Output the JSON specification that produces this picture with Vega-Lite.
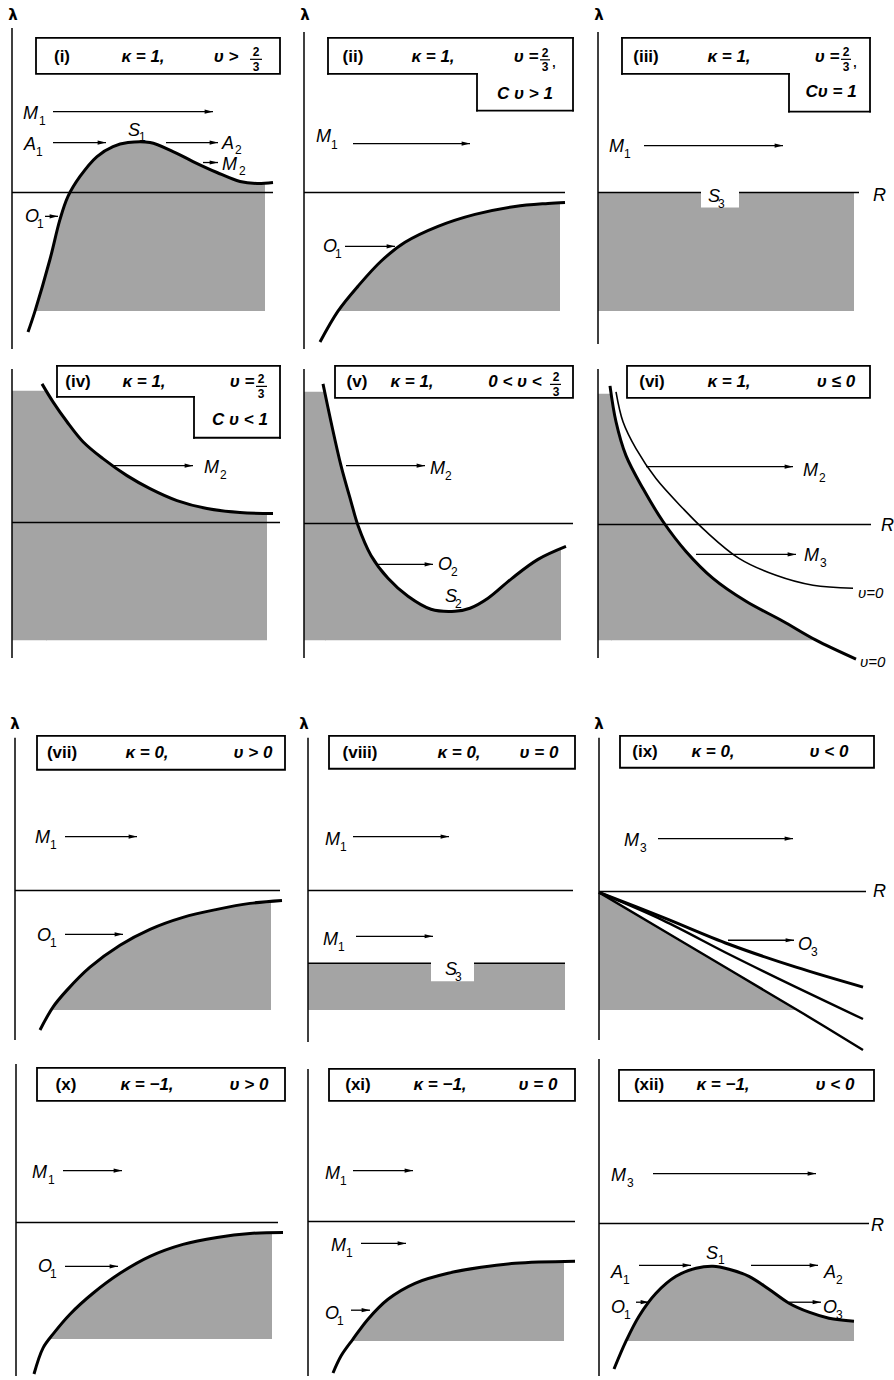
{
  "$schema": "https://vega.github.io/schema/vega-lite/v6.json",
  "width": 894,
  "height": 1380,
  "autosize": {"type": "fit", "contains": "padding"},
  "padding": 0,
  "background": "white",
  "config": {"view": {"stroke": null}},
  "datasets": {
    "shade": [
      {"id": "i", "x": 35, "y": 312, "yb": 312}, {"id": "i", "x": 50, "y": 260, "yb": 312}, {"id": "i", "x": 60, "y": 220, "yb": 312}, {"id": "i", "x": 68, "y": 197, "yb": 312}, {"id": "i", "x": 80, "y": 177, "yb": 312}, {"id": "i", "x": 97, "y": 157, "yb": 312}, {"id": "i", "x": 113, "y": 147, "yb": 312}, {"id": "i", "x": 128, "y": 143, "yb": 312}, {"id": "i", "x": 150, "y": 143, "yb": 312}, {"id": "i", "x": 173, "y": 152, "yb": 312}, {"id": "i", "x": 193, "y": 162, "yb": 312}, {"id": "i", "x": 217, "y": 173, "yb": 312}, {"id": "i", "x": 240, "y": 182, "yb": 312}, {"id": "i", "x": 257, "y": 184, "yb": 312}, {"id": "i", "x": 265, "y": 184, "yb": 312},
      {"id": "ii", "x": 338, "y": 312, "yb": 312}, {"id": "ii", "x": 358, "y": 287, "yb": 312}, {"id": "ii", "x": 381, "y": 262, "yb": 312}, {"id": "ii", "x": 405, "y": 243, "yb": 312}, {"id": "ii", "x": 438, "y": 227, "yb": 312}, {"id": "ii", "x": 475, "y": 215, "yb": 312}, {"id": "ii", "x": 515, "y": 207, "yb": 312}, {"id": "ii", "x": 548, "y": 204, "yb": 312}, {"id": "ii", "x": 560, "y": 203.5, "yb": 312},
      {"id": "iii", "x": 598, "y": 193, "yb": 312}, {"id": "iii", "x": 854, "y": 193, "yb": 312},
      {"id": "iv0", "x": 12, "y": 392, "yb": 642}, {"id": "iv0", "x": 47, "y": 392, "yb": 642},
      {"id": "iv", "x": 46, "y": 392, "yb": 642}, {"id": "iv", "x": 53, "y": 403, "yb": 642}, {"id": "iv", "x": 67, "y": 423, "yb": 642}, {"id": "iv", "x": 83, "y": 443, "yb": 642}, {"id": "iv", "x": 103, "y": 460, "yb": 642}, {"id": "iv", "x": 127, "y": 477, "yb": 642}, {"id": "iv", "x": 150, "y": 490, "yb": 642}, {"id": "iv", "x": 177, "y": 502, "yb": 642}, {"id": "iv", "x": 207, "y": 510, "yb": 642}, {"id": "iv", "x": 240, "y": 514, "yb": 642}, {"id": "iv", "x": 267, "y": 515, "yb": 642},
      {"id": "v0", "x": 304, "y": 393, "yb": 642}, {"id": "v0", "x": 326, "y": 393, "yb": 642},
      {"id": "v", "x": 325, "y": 393, "yb": 642}, {"id": "v", "x": 331, "y": 423, "yb": 642}, {"id": "v", "x": 341, "y": 467, "yb": 642}, {"id": "v", "x": 351, "y": 503, "yb": 642}, {"id": "v", "x": 358, "y": 527, "yb": 642}, {"id": "v", "x": 371, "y": 557, "yb": 642}, {"id": "v", "x": 388, "y": 580, "yb": 642}, {"id": "v", "x": 408, "y": 598, "yb": 642}, {"id": "v", "x": 431, "y": 611, "yb": 642}, {"id": "v", "x": 455, "y": 613, "yb": 642}, {"id": "v", "x": 470, "y": 610, "yb": 642}, {"id": "v", "x": 488, "y": 600, "yb": 642}, {"id": "v", "x": 512, "y": 580, "yb": 642}, {"id": "v", "x": 538, "y": 561, "yb": 642}, {"id": "v", "x": 561, "y": 550, "yb": 642},
      {"id": "vi0", "x": 598, "y": 395, "yb": 642}, {"id": "vi0", "x": 612, "y": 395, "yb": 642},
      {"id": "vi", "x": 611, "y": 395, "yb": 642}, {"id": "vi", "x": 616, "y": 423, "yb": 642}, {"id": "vi", "x": 626, "y": 457, "yb": 642}, {"id": "vi", "x": 643, "y": 490, "yb": 642}, {"id": "vi", "x": 663, "y": 523, "yb": 642}, {"id": "vi", "x": 686, "y": 553, "yb": 642}, {"id": "vi", "x": 713, "y": 580, "yb": 642}, {"id": "vi", "x": 746, "y": 603, "yb": 642}, {"id": "vi", "x": 783, "y": 623, "yb": 642}, {"id": "vi", "x": 816, "y": 642, "yb": 642},
      {"id": "vii", "x": 51, "y": 1013, "yb": 1013}, {"id": "vii", "x": 53, "y": 1010, "yb": 1013}, {"id": "vii", "x": 67, "y": 993, "yb": 1013}, {"id": "vii", "x": 90, "y": 970, "yb": 1013}, {"id": "vii", "x": 120, "y": 948, "yb": 1013}, {"id": "vii", "x": 150, "y": 932, "yb": 1013}, {"id": "vii", "x": 183, "y": 920, "yb": 1013}, {"id": "vii", "x": 217, "y": 912, "yb": 1013}, {"id": "vii", "x": 250, "y": 906, "yb": 1013}, {"id": "vii", "x": 271, "y": 904, "yb": 1013},
      {"id": "viii", "x": 308, "y": 966, "yb": 1013}, {"id": "viii", "x": 565, "y": 966, "yb": 1013},
      {"id": "ix", "x": 599, "y": 895, "yb": 1013}, {"id": "ix", "x": 700, "y": 955, "yb": 1013}, {"id": "ix", "x": 797, "y": 1013, "yb": 1013},
      {"id": "x", "x": 49, "y": 1343, "yb": 1343}, {"id": "x", "x": 53, "y": 1338, "yb": 1343}, {"id": "x", "x": 70, "y": 1318, "yb": 1343}, {"id": "x", "x": 93, "y": 1297, "yb": 1343}, {"id": "x", "x": 120, "y": 1277, "yb": 1343}, {"id": "x", "x": 150, "y": 1260, "yb": 1343}, {"id": "x", "x": 183, "y": 1248, "yb": 1343}, {"id": "x", "x": 217, "y": 1241, "yb": 1343}, {"id": "x", "x": 250, "y": 1237, "yb": 1343}, {"id": "x", "x": 272, "y": 1236, "yb": 1343},
      {"id": "xi", "x": 352, "y": 1345, "yb": 1345}, {"id": "xi", "x": 368, "y": 1323, "yb": 1345}, {"id": "xi", "x": 388, "y": 1303, "yb": 1345}, {"id": "xi", "x": 415, "y": 1287, "yb": 1345}, {"id": "xi", "x": 448, "y": 1277, "yb": 1345}, {"id": "xi", "x": 481, "y": 1271, "yb": 1345}, {"id": "xi", "x": 515, "y": 1267, "yb": 1345}, {"id": "xi", "x": 564, "y": 1265, "yb": 1345},
      {"id": "xii", "x": 626, "y": 1345, "yb": 1345}, {"id": "xii", "x": 639, "y": 1320, "yb": 1345}, {"id": "xii", "x": 656, "y": 1297, "yb": 1345}, {"id": "xii", "x": 676, "y": 1280, "yb": 1345}, {"id": "xii", "x": 696, "y": 1272, "yb": 1345}, {"id": "xii", "x": 713, "y": 1270, "yb": 1345}, {"id": "xii", "x": 729, "y": 1273, "yb": 1345}, {"id": "xii", "x": 749, "y": 1280, "yb": 1345}, {"id": "xii", "x": 769, "y": 1293, "yb": 1345}, {"id": "xii", "x": 789, "y": 1307, "yb": 1345}, {"id": "xii", "x": 809, "y": 1316, "yb": 1345}, {"id": "xii", "x": 829, "y": 1322, "yb": 1345}, {"id": "xii", "x": 854, "y": 1325, "yb": 1345}
    ],
    "notch": [
      {"x": 701, "x2": 739, "y": 189, "y2": 208},
      {"x": 431, "x2": 474, "y": 964, "y2": 984}
    ],
    "axes": [
      {"x": 12, "y": 28, "y2": 350}, {"x": 12, "y": 370, "y2": 660},
      {"x": 304, "y": 32, "y2": 350}, {"x": 304, "y": 370, "y2": 660},
      {"x": 598, "y": 32, "y2": 345}, {"x": 598, "y": 370, "y2": 660},
      {"x": 15, "y": 740, "y2": 1043}, {"x": 16, "y": 1067, "y2": 1380},
      {"x": 308, "y": 740, "y2": 1045}, {"x": 308, "y": 1072, "y2": 1380},
      {"x": 599, "y": 740, "y2": 1043}, {"x": 599, "y": 1062, "y2": 1380}
    ],
    "hlines": [
      {"x": 12, "x2": 273, "y": 193}, {"x": 304, "x2": 565, "y": 193}, {"x": 598, "x2": 859, "y": 193},
      {"x": 12, "x2": 280, "y": 524}, {"x": 304, "x2": 573, "y": 525}, {"x": 598, "x2": 871, "y": 526},
      {"x": 15, "x2": 280, "y": 893}, {"x": 308, "x2": 573, "y": 893}, {"x": 599, "x2": 866, "y": 894},
      {"x": 308, "x2": 565, "y": 966},
      {"x": 16, "x2": 278, "y": 1226}, {"x": 308, "x2": 575, "y": 1225}, {"x": 599, "x2": 869, "y": 1227}
    ],
    "boundary": [
      {"id": "i", "x": 28, "y": 333}, {"id": "i", "x": 35, "y": 312}, {"id": "i", "x": 50, "y": 260}, {"id": "i", "x": 60, "y": 220}, {"id": "i", "x": 68, "y": 197}, {"id": "i", "x": 80, "y": 177}, {"id": "i", "x": 97, "y": 157}, {"id": "i", "x": 113, "y": 147}, {"id": "i", "x": 128, "y": 143}, {"id": "i", "x": 150, "y": 143}, {"id": "i", "x": 173, "y": 152}, {"id": "i", "x": 193, "y": 162}, {"id": "i", "x": 217, "y": 173}, {"id": "i", "x": 240, "y": 182}, {"id": "i", "x": 257, "y": 184}, {"id": "i", "x": 273, "y": 183},
      {"id": "ii", "x": 320, "y": 343}, {"id": "ii", "x": 338, "y": 312}, {"id": "ii", "x": 358, "y": 287}, {"id": "ii", "x": 381, "y": 262}, {"id": "ii", "x": 405, "y": 243}, {"id": "ii", "x": 438, "y": 227}, {"id": "ii", "x": 475, "y": 215}, {"id": "ii", "x": 515, "y": 207}, {"id": "ii", "x": 548, "y": 204}, {"id": "ii", "x": 565, "y": 203},
      {"id": "iv", "x": 42, "y": 385}, {"id": "iv", "x": 53, "y": 403}, {"id": "iv", "x": 67, "y": 423}, {"id": "iv", "x": 83, "y": 443}, {"id": "iv", "x": 103, "y": 460}, {"id": "iv", "x": 127, "y": 477}, {"id": "iv", "x": 150, "y": 490}, {"id": "iv", "x": 177, "y": 502}, {"id": "iv", "x": 207, "y": 510}, {"id": "iv", "x": 240, "y": 514}, {"id": "iv", "x": 273, "y": 515},
      {"id": "v", "x": 323, "y": 385}, {"id": "v", "x": 331, "y": 423}, {"id": "v", "x": 341, "y": 467}, {"id": "v", "x": 351, "y": 503}, {"id": "v", "x": 358, "y": 527}, {"id": "v", "x": 371, "y": 557}, {"id": "v", "x": 388, "y": 580}, {"id": "v", "x": 408, "y": 598}, {"id": "v", "x": 431, "y": 611}, {"id": "v", "x": 455, "y": 613}, {"id": "v", "x": 470, "y": 610}, {"id": "v", "x": 488, "y": 600}, {"id": "v", "x": 512, "y": 580}, {"id": "v", "x": 538, "y": 561}, {"id": "v", "x": 566, "y": 548},
      {"id": "vi", "x": 610, "y": 387}, {"id": "vi", "x": 616, "y": 423}, {"id": "vi", "x": 626, "y": 457}, {"id": "vi", "x": 643, "y": 490}, {"id": "vi", "x": 663, "y": 523}, {"id": "vi", "x": 686, "y": 553}, {"id": "vi", "x": 713, "y": 580}, {"id": "vi", "x": 746, "y": 603}, {"id": "vi", "x": 783, "y": 623}, {"id": "vi", "x": 816, "y": 642}, {"id": "vi", "x": 856, "y": 661},
      {"id": "vii", "x": 40, "y": 1033}, {"id": "vii", "x": 53, "y": 1010}, {"id": "vii", "x": 67, "y": 993}, {"id": "vii", "x": 90, "y": 970}, {"id": "vii", "x": 120, "y": 948}, {"id": "vii", "x": 150, "y": 932}, {"id": "vii", "x": 183, "y": 920}, {"id": "vii", "x": 217, "y": 912}, {"id": "vii", "x": 250, "y": 906}, {"id": "vii", "x": 282, "y": 903},
      {"id": "ixa", "x": 599, "y": 895}, {"id": "ixa", "x": 663, "y": 920}, {"id": "ixa", "x": 729, "y": 947}, {"id": "ixa", "x": 796, "y": 970}, {"id": "ixa", "x": 863, "y": 990},
      {"id": "x", "x": 34, "y": 1378}, {"id": "x", "x": 43, "y": 1352}, {"id": "x", "x": 53, "y": 1338}, {"id": "x", "x": 70, "y": 1318}, {"id": "x", "x": 93, "y": 1297}, {"id": "x", "x": 120, "y": 1277}, {"id": "x", "x": 150, "y": 1260}, {"id": "x", "x": 183, "y": 1248}, {"id": "x", "x": 217, "y": 1241}, {"id": "x", "x": 250, "y": 1237}, {"id": "x", "x": 283, "y": 1236},
      {"id": "xi", "x": 333, "y": 1377}, {"id": "xi", "x": 341, "y": 1360}, {"id": "xi", "x": 353, "y": 1343}, {"id": "xi", "x": 368, "y": 1323}, {"id": "xi", "x": 388, "y": 1303}, {"id": "xi", "x": 415, "y": 1287}, {"id": "xi", "x": 448, "y": 1277}, {"id": "xi", "x": 481, "y": 1271}, {"id": "xi", "x": 515, "y": 1267}, {"id": "xi", "x": 575, "y": 1265},
      {"id": "xii", "x": 614, "y": 1373}, {"id": "xii", "x": 626, "y": 1345}, {"id": "xii", "x": 639, "y": 1320}, {"id": "xii", "x": 656, "y": 1297}, {"id": "xii", "x": 676, "y": 1280}, {"id": "xii", "x": 696, "y": 1272}, {"id": "xii", "x": 713, "y": 1270}, {"id": "xii", "x": 729, "y": 1273}, {"id": "xii", "x": 749, "y": 1280}, {"id": "xii", "x": 769, "y": 1293}, {"id": "xii", "x": 789, "y": 1307}, {"id": "xii", "x": 809, "y": 1316}, {"id": "xii", "x": 829, "y": 1322}, {"id": "xii", "x": 854, "y": 1325}
    ],
    "medium": [
      {"id": "ixb", "x": 599, "y": 895}, {"id": "ixb", "x": 663, "y": 923}, {"id": "ixb", "x": 729, "y": 957}, {"id": "ixb", "x": 796, "y": 990}, {"id": "ixb", "x": 863, "y": 1022},
      {"id": "ixc", "x": 599, "y": 895}, {"id": "ixc", "x": 700, "y": 955}, {"id": "ixc", "x": 804, "y": 1017}, {"id": "ixc", "x": 863, "y": 1053}
    ],
    "light": [
      {"id": "vi0", "x": 616, "y": 393}, {"id": "vi0", "x": 623, "y": 423}, {"id": "vi0", "x": 636, "y": 450}, {"id": "vi0", "x": 656, "y": 480}, {"id": "vi0", "x": 683, "y": 510}, {"id": "vi0", "x": 706, "y": 533}, {"id": "vi0", "x": 739, "y": 560}, {"id": "vi0", "x": 776, "y": 577}, {"id": "vi0", "x": 813, "y": 587}, {"id": "vi0", "x": 853, "y": 590}
    ],
    "frames": [
      {"x": 36, "x2": 280, "y": 38, "y2": 74},
      {"x": 335, "x2": 573, "y": 367, "y2": 399},
      {"x": 627, "x2": 870, "y": 367, "y2": 399},
      {"x": 37, "x2": 285, "y": 738, "y2": 772},
      {"x": 329, "x2": 575, "y": 738, "y2": 771},
      {"x": 620, "x2": 874, "y": 738, "y2": 770},
      {"x": 37, "x2": 285, "y": 1071, "y2": 1104},
      {"x": 329, "x2": 575, "y": 1072, "y2": 1104},
      {"x": 619, "x2": 874, "y": 1073, "y2": 1104}
    ],
    "steps": [
      {"x": 328, "y": 38, "x2": 573, "y2": 38}, {"x": 573, "y": 38, "x2": 573, "y2": 111}, {"x": 573, "y": 111, "x2": 477, "y2": 111}, {"x": 477, "y": 111, "x2": 477, "y2": 74}, {"x": 477, "y": 74, "x2": 328, "y2": 74}, {"x": 328, "y": 74, "x2": 328, "y2": 38},
      {"x": 622, "y": 38, "x2": 870, "y2": 38}, {"x": 870, "y": 38, "x2": 870, "y2": 112}, {"x": 870, "y": 112, "x2": 789, "y2": 112}, {"x": 789, "y": 112, "x2": 789, "y2": 74}, {"x": 789, "y": 74, "x2": 622, "y2": 74}, {"x": 622, "y": 74, "x2": 622, "y2": 38},
      {"x": 57, "y": 367, "x2": 280, "y2": 367}, {"x": 280, "y": 367, "x2": 280, "y2": 439}, {"x": 280, "y": 439, "x2": 194, "y2": 439}, {"x": 194, "y": 439, "x2": 194, "y2": 398}, {"x": 194, "y": 398, "x2": 57, "y2": 398}, {"x": 57, "y": 398, "x2": 57, "y2": 367}
    ],
    "bars": [
      {"x": 250, "x2": 262, "y": 59.5}, {"x": 540, "x2": 550, "y": 60}, {"x": 841, "x2": 851, "y": 59.5},
      {"x": 256, "x2": 267, "y": 387.5}, {"x": 550, "x2": 561, "y": 385.5}
    ],
    "arrows": [
      {"x": 53, "x2": 213, "y": 112}, {"x": 53, "x2": 106, "y": 143}, {"x": 166, "x2": 218, "y": 143}, {"x": 203, "x2": 218, "y": 163}, {"x": 45, "x2": 58, "y": 217},
      {"x": 353, "x2": 470, "y": 144}, {"x": 345, "x2": 395, "y": 247},
      {"x": 644, "x2": 783, "y": 146},
      {"x": 113, "x2": 193, "y": 467},
      {"x": 346, "x2": 425, "y": 467}, {"x": 376, "x2": 433, "y": 566},
      {"x": 646, "x2": 793, "y": 468}, {"x": 696, "x2": 796, "y": 556},
      {"x": 65, "x2": 137, "y": 839}, {"x": 65, "x2": 123, "y": 937},
      {"x": 353, "x2": 449, "y": 839}, {"x": 356, "x2": 433, "y": 939},
      {"x": 658, "x2": 793, "y": 841}, {"x": 728, "x2": 794, "y": 943},
      {"x": 63, "x2": 122, "y": 1174}, {"x": 65, "x2": 118, "y": 1270},
      {"x": 353, "x2": 413, "y": 1174}, {"x": 361, "x2": 406, "y": 1247}, {"x": 351, "x2": 370, "y": 1314},
      {"x": 653, "x2": 816, "y": 1177}, {"x": 639, "x2": 691, "y": 1269}, {"x": 751, "x2": 818, "y": 1269}, {"x": 636, "x2": 649, "y": 1306}, {"x": 789, "x2": 821, "y": 1306}
    ],
    "letters": [
      {"x": 23, "y": 114, "t": "M"}, {"x": 24, "y": 145, "t": "A"}, {"x": 128, "y": 131, "t": "S"}, {"x": 222, "y": 144, "t": "A"}, {"x": 222, "y": 165, "t": "M"}, {"x": 25, "y": 218, "t": "O"},
      {"x": 316, "y": 137, "t": "M"}, {"x": 323, "y": 248, "t": "O"},
      {"x": 609, "y": 147, "t": "M"}, {"x": 708, "y": 198, "t": "S"}, {"x": 873, "y": 197, "t": "R"},
      {"x": 204, "y": 469, "t": "M"},
      {"x": 430, "y": 470, "t": "M"}, {"x": 438, "y": 567, "t": "O"}, {"x": 445, "y": 599, "t": "S"},
      {"x": 803, "y": 472, "t": "M"}, {"x": 804, "y": 558, "t": "M"}, {"x": 881, "y": 528, "t": "R"},
      {"x": 35, "y": 840, "t": "M"}, {"x": 37, "y": 939, "t": "O"},
      {"x": 325, "y": 842, "t": "M"}, {"x": 323, "y": 943, "t": "M"}, {"x": 445, "y": 973, "t": "S"},
      {"x": 624, "y": 843, "t": "M"}, {"x": 798, "y": 948, "t": "O"}, {"x": 873, "y": 895, "t": "R"},
      {"x": 32, "y": 1176, "t": "M"}, {"x": 38, "y": 1271, "t": "O"},
      {"x": 325, "y": 1177, "t": "M"}, {"x": 331, "y": 1250, "t": "M"}, {"x": 325, "y": 1318, "t": "O"},
      {"x": 611, "y": 1179, "t": "M"}, {"x": 611, "y": 1277, "t": "A"}, {"x": 706, "y": 1258, "t": "S"}, {"x": 824, "y": 1277, "t": "A"}, {"x": 611, "y": 1312, "t": "O"}, {"x": 823, "y": 1312, "t": "O"}, {"x": 871, "y": 1230, "t": "R"}
    ],
    "subs": [
      {"x": 39, "y": 121, "t": "1"}, {"x": 36, "y": 152, "t": "1"}, {"x": 139, "y": 137, "t": "1"}, {"x": 235, "y": 150, "t": "2"}, {"x": 239, "y": 171, "t": "2"}, {"x": 37, "y": 225, "t": "1"},
      {"x": 331, "y": 145, "t": "1"}, {"x": 335, "y": 255, "t": "1"},
      {"x": 624, "y": 154, "t": "1"}, {"x": 718, "y": 205, "t": "3"},
      {"x": 220, "y": 476, "t": "2"},
      {"x": 445, "y": 477, "t": "2"}, {"x": 451, "y": 574, "t": "2"}, {"x": 455, "y": 606, "t": "2"},
      {"x": 819, "y": 479, "t": "2"}, {"x": 820, "y": 565, "t": "3"},
      {"x": 50, "y": 847, "t": "1"}, {"x": 50, "y": 946, "t": "1"},
      {"x": 340, "y": 849, "t": "1"}, {"x": 338, "y": 950, "t": "1"}, {"x": 455, "y": 980, "t": "3"},
      {"x": 640, "y": 850, "t": "3"}, {"x": 811, "y": 955, "t": "3"},
      {"x": 48, "y": 1183, "t": "1"}, {"x": 50, "y": 1278, "t": "1"},
      {"x": 340, "y": 1184, "t": "1"}, {"x": 346, "y": 1257, "t": "1"}, {"x": 337, "y": 1325, "t": "1"},
      {"x": 627, "y": 1186, "t": "3"}, {"x": 623, "y": 1284, "t": "1"}, {"x": 718, "y": 1264, "t": "1"}, {"x": 836, "y": 1284, "t": "2"}, {"x": 624, "y": 1319, "t": "1"}, {"x": 836, "y": 1319, "t": "3"}
    ],
    "cases": [
      {"x": 62, "y": 57, "t": "(i)"}, {"x": 353, "y": 57, "t": "(ii)"}, {"x": 646, "y": 57, "t": "(iii)"},
      {"x": 78, "y": 383, "t": "(iv)"}, {"x": 357, "y": 383, "t": "(v)"}, {"x": 652, "y": 383, "t": "(vi)"},
      {"x": 62, "y": 755, "t": "(vii)"}, {"x": 360, "y": 755, "t": "(viii)"}, {"x": 645, "y": 754, "t": "(ix)"},
      {"x": 66, "y": 1088, "t": "(x)"}, {"x": 358, "y": 1088, "t": "(xi)"}, {"x": 649, "y": 1088, "t": "(xii)"}
    ],
    "conditions": [
      {"x": 143, "y": 57, "t": "κ = 1,"}, {"x": 226, "y": 57, "t": "υ >"},
      {"x": 433, "y": 57, "t": "κ = 1,"}, {"x": 526, "y": 57, "t": "υ ="}, {"x": 525, "y": 94, "t": "C υ > 1"},
      {"x": 729, "y": 57, "t": "κ = 1,"}, {"x": 827, "y": 57, "t": "υ ="}, {"x": 831, "y": 92, "t": "Cυ = 1"},
      {"x": 144, "y": 383, "t": "κ = 1,"}, {"x": 242, "y": 383, "t": "υ ="}, {"x": 240, "y": 421, "t": "C υ < 1"},
      {"x": 412, "y": 383, "t": "κ = 1,"}, {"x": 515, "y": 383, "t": "0 < υ <"},
      {"x": 729, "y": 383, "t": "κ = 1,"}, {"x": 836, "y": 383, "t": "υ ≤ 0"},
      {"x": 147, "y": 755, "t": "κ = 0,"}, {"x": 253, "y": 755, "t": "υ > 0"},
      {"x": 459, "y": 755, "t": "κ = 0,"}, {"x": 539, "y": 755, "t": "υ = 0"},
      {"x": 713, "y": 754, "t": "κ = 0,"}, {"x": 829, "y": 754, "t": "υ < 0"},
      {"x": 147, "y": 1088, "t": "κ = −1,"}, {"x": 249, "y": 1088, "t": "υ > 0"},
      {"x": 440, "y": 1088, "t": "κ = −1,"}, {"x": 538, "y": 1088, "t": "υ = 0"},
      {"x": 723, "y": 1088, "t": "κ = −1,"}, {"x": 835, "y": 1088, "t": "υ < 0"}
    ],
    "digits": [
      {"x": 256, "y": 52, "t": "2"}, {"x": 256, "y": 67, "t": "3"},
      {"x": 545, "y": 53, "t": "2"}, {"x": 545, "y": 67, "t": "3"}, {"x": 554, "y": 63, "t": ","},
      {"x": 846, "y": 52, "t": "2"}, {"x": 846, "y": 67, "t": "3"}, {"x": 855, "y": 63, "t": ","},
      {"x": 261, "y": 380, "t": "2"}, {"x": 261, "y": 395, "t": "3"},
      {"x": 556, "y": 378, "t": "2"}, {"x": 556, "y": 393, "t": "3"}
    ],
    "lambda": [
      {"x": 13, "y": 15, "t": "λ"}, {"x": 305, "y": 15, "t": "λ"}, {"x": 599, "y": 15, "t": "λ"},
      {"x": 15, "y": 726, "t": "λ"}, {"x": 304, "y": 726, "t": "λ"}, {"x": 599, "y": 726, "t": "λ"}
    ],
    "limits": [
      {"x": 858, "y": 595, "t": "υ=0"}, {"x": 860, "y": 664, "t": "υ=0"}
    ]
  },
  "encoding": {
    "x": {"field": "x", "type": "quantitative", "scale": {"domain": [0, 894], "nice": false, "zero": false}, "axis": null},
    "y": {"field": "y", "type": "quantitative", "scale": {"domain": [0, 1380], "nice": false, "zero": false, "reverse": true}, "axis": null}
  },
  "layer": [
    {
      "data": {"name": "shade"},
      "mark": {"type": "area", "interpolate": "catmull-rom", "fill": "#a4a4a4"},
      "encoding": {"y2": {"field": "yb"}, "detail": {"field": "id"}}
    },
    {
      "data": {"name": "hlines"},
      "mark": {"type": "rule", "color": "black", "strokeWidth": 1.5},
      "encoding": {"x2": {"field": "x2"}}
    },
    {
      "data": {"name": "axes"},
      "mark": {"type": "rule", "color": "black", "strokeWidth": 1.5},
      "encoding": {"y2": {"field": "y2"}}
    },
    {
      "data": {"name": "notch"},
      "mark": {"type": "rect", "fill": "white"},
      "encoding": {"x2": {"field": "x2"}, "y2": {"field": "y2"}}
    },
    {
      "data": {"name": "boundary"},
      "mark": {"type": "line", "interpolate": "catmull-rom", "color": "black", "strokeWidth": 3},
      "encoding": {"detail": {"field": "id"}}
    },
    {
      "data": {"name": "medium"},
      "mark": {"type": "line", "interpolate": "catmull-rom", "color": "black", "strokeWidth": 2.4},
      "encoding": {"detail": {"field": "id"}}
    },
    {
      "data": {"name": "light"},
      "mark": {"type": "line", "interpolate": "catmull-rom", "color": "black", "strokeWidth": 1.6},
      "encoding": {"detail": {"field": "id"}}
    },
    {
      "data": {"name": "frames"},
      "mark": {"type": "rect", "fill": "white", "fillOpacity": 0, "stroke": "black", "strokeWidth": 1.8},
      "encoding": {"x2": {"field": "x2"}, "y2": {"field": "y2"}}
    },
    {
      "data": {"name": "steps"},
      "mark": {"type": "rule", "color": "black", "strokeWidth": 1.8, "strokeCap": "square"},
      "encoding": {"x2": {"field": "x2"}, "y2": {"field": "y2"}}
    },
    {
      "data": {"name": "bars"},
      "mark": {"type": "rule", "color": "black", "strokeWidth": 1.2},
      "encoding": {"x2": {"field": "x2"}}
    },
    {
      "data": {"name": "arrows"},
      "mark": {"type": "rule", "color": "black", "strokeWidth": 1.3},
      "encoding": {"x2": {"field": "x2"}}
    },
    {
      "data": {"name": "arrows"},
      "mark": {"type": "point", "shape": "M0,0L-2,-0.5L-2,0.5Z", "size": 70, "filled": true, "color": "black", "opacity": 1},
      "encoding": {"x": {"field": "x2", "type": "quantitative"}}
    },
    {
      "data": {"name": "letters"},
      "mark": {"type": "text", "align": "left", "baseline": "middle", "font": "Liberation Sans", "fontStyle": "italic", "fontSize": 18, "color": "black"},
      "encoding": {"text": {"field": "t"}}
    },
    {
      "data": {"name": "subs"},
      "mark": {"type": "text", "align": "left", "baseline": "middle", "font": "Liberation Sans", "fontSize": 12, "color": "black"},
      "encoding": {"text": {"field": "t"}}
    },
    {
      "data": {"name": "cases"},
      "mark": {"type": "text", "align": "center", "baseline": "middle", "font": "Liberation Sans", "fontWeight": "bold", "fontSize": 17, "color": "black"},
      "encoding": {"text": {"field": "t"}}
    },
    {
      "data": {"name": "conditions"},
      "mark": {"type": "text", "align": "center", "baseline": "middle", "font": "Liberation Sans", "fontStyle": "italic", "fontWeight": "bold", "fontSize": 17, "color": "black"},
      "encoding": {"text": {"field": "t"}}
    },
    {
      "data": {"name": "digits"},
      "mark": {"type": "text", "align": "center", "baseline": "middle", "font": "Liberation Sans", "fontWeight": "bold", "fontSize": 12, "color": "black"},
      "encoding": {"text": {"field": "t"}}
    },
    {
      "data": {"name": "lambda"},
      "mark": {"type": "text", "align": "center", "baseline": "middle", "font": "DejaVu Sans", "fontWeight": "bold", "fontSize": 15, "color": "black"},
      "encoding": {"text": {"field": "t"}}
    },
    {
      "data": {"name": "limits"},
      "mark": {"type": "text", "align": "left", "baseline": "middle", "font": "Liberation Sans", "fontStyle": "italic", "fontSize": 15, "color": "black"},
      "encoding": {"text": {"field": "t"}}
    }
  ]
}
